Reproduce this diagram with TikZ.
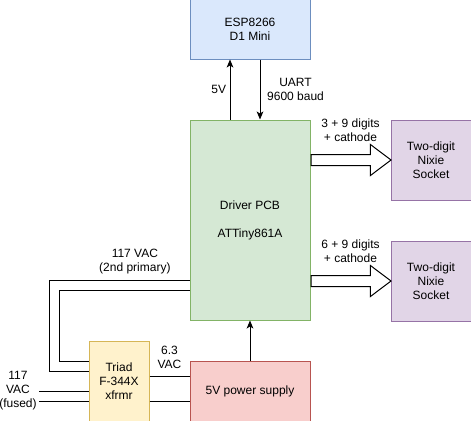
\documentclass[tikz,border=0pt]{standalone}
\usepackage{fontspec}
\setmainfont{Liberation Sans}
\usepackage{tikz}
\usetikzlibrary{calc,positioning,arrows.meta,shapes}
\definecolor{espfill}{HTML}{DAE8FC}
\definecolor{espdraw}{HTML}{6C8EBF}
\definecolor{pcbfill}{HTML}{D5E8D4}
\definecolor{pcbdraw}{HTML}{82B366}
\definecolor{nixfill}{HTML}{E1D5E7}
\definecolor{nixdraw}{HTML}{9673A6}
\definecolor{psufill}{HTML}{F8CECC}
\definecolor{psudraw}{HTML}{B85450}
\definecolor{trfill}{HTML}{FFF2CC}
\definecolor{trdraw}{HTML}{D6B656}
\tikzset{%
  font=\fontsize{9}{10.5}\selectfont,>={Stealth[length=6pt,width=5pt,inset=1.5pt]},
  block/.style  = {rectangle, draw, align=center, inner sep=0pt, line width=0.75pt},
  esp/.style    = {block, fill=espfill, draw=espdraw, minimum width=90pt, minimum height=45pt},
  pcb/.style    = {block, fill=pcbfill, draw=pcbdraw, minimum width=90pt, minimum height=150pt},
  nixie/.style  = {block, fill=nixfill, draw=nixdraw, minimum width=60pt, minimum height=60pt},
  psu/.style    = {block, fill=psufill, draw=psudraw, minimum width=90pt, minimum height=45pt},
  xfmr/.style   = {block, fill=trfill, draw=trdraw, minimum width=45pt, minimum height=60pt},
  bus/.style    = {draw, fill=white, single arrow, inner xsep=0pt, inner ysep=3.75pt, line width=0.75pt,
                   minimum height=60pt, single arrow head extend=7.5pt,
                   single arrow tip angle=74, anchor=tail},
  line/.style   = {draw, line width=0.75pt}
}

\begin{document}
\begin{tikzpicture}[x=0.75pt,y=-0.75pt]
	\useasboundingbox (0,0) rectangle (471,421);
	
	\node[pcb] (pcb) at (250,220) {Driver PCB\\[10.5pt]ATTiny861A};
	\node[esp, above=45pt of pcb] (esp) {ESP8266\\D1 Mini};
	\node[psu, below=30pt of pcb] (psu) {5V power supply};
	\node[xfmr, anchor=south east] (xfmr) at ([xshift=-30pt]psu.south west) {Triad\\F-344X\\xfrmr};
	\node[nixie, anchor=north west] (nixA) at ([xshift=60pt]pcb.north east) {Two-digit\\Nixie\\Socket};
	\node[nixie, below=30pt of nixA] (nixB) {Two-digit\\Nixie\\Socket};
	
	% wide arrows to the sockets
	\node[bus] (busA) at (pcb.east |- nixA.west) {};
	\node[bus] (busB) at (pcb.east |- nixB.west) {};
	\node[align=center] (lblA) at ($(pcb.east |- nixA.west)!.5!(nixA.west) + (0,-30)$) {3 + 9 digits\\+ cathode};
	\node[align=center] (lblB) at ($(pcb.east |- nixB.west)!.5!(nixB.west) + (0,-30)$) {6 + 9 digits\\+ cathode};
	
	% esp link
	\draw[line,->] ([xshift=-15pt]pcb.north) -- node[left, inner sep=2.5pt] {5V} ([xshift=-15pt]esp.south);
	\draw[line,->] ([xshift=7.5pt]esp.south) -- node[right, inner sep=5pt, align=center] {UART\\9600 baud} ([xshift=7.5pt]pcb.north);
	\draw[line,->] (psu) -- (pcb);
	
	% transformer
	\draw[line] ([yshift=-45pt]pcb.west) -- node[pos=.39, above, align=center, inner sep=4pt] {117 VAC\\(2nd primary)} ++(-105pt,0) |- ([yshift=7.5pt]xfmr.west);
	\draw[line] ([yshift=-52.5pt]pcb.west) -- ++(-97.5pt,0) |- ([yshift=15pt]xfmr.west);
	\draw[line] ([yshift=3.75pt]xfmr.east) -- node[above, align=center, inner sep=5.5pt] {6.3\\VAC} ([yshift=11.25pt]psu.west);
	\draw[line] ([yshift=-15pt]xfmr.east) -- ([yshift=-7.5pt]psu.west);
	\draw[line] ([yshift=-7.5pt]xfmr.west) -- ++(-37.5pt,0) node[left, align=center, inner sep=1pt] {117\\VAC\\(fused)};
	\draw[line] ([yshift=-15pt]xfmr.west) -- ++(-37.5pt,0);
\end{tikzpicture}
\end{document}
